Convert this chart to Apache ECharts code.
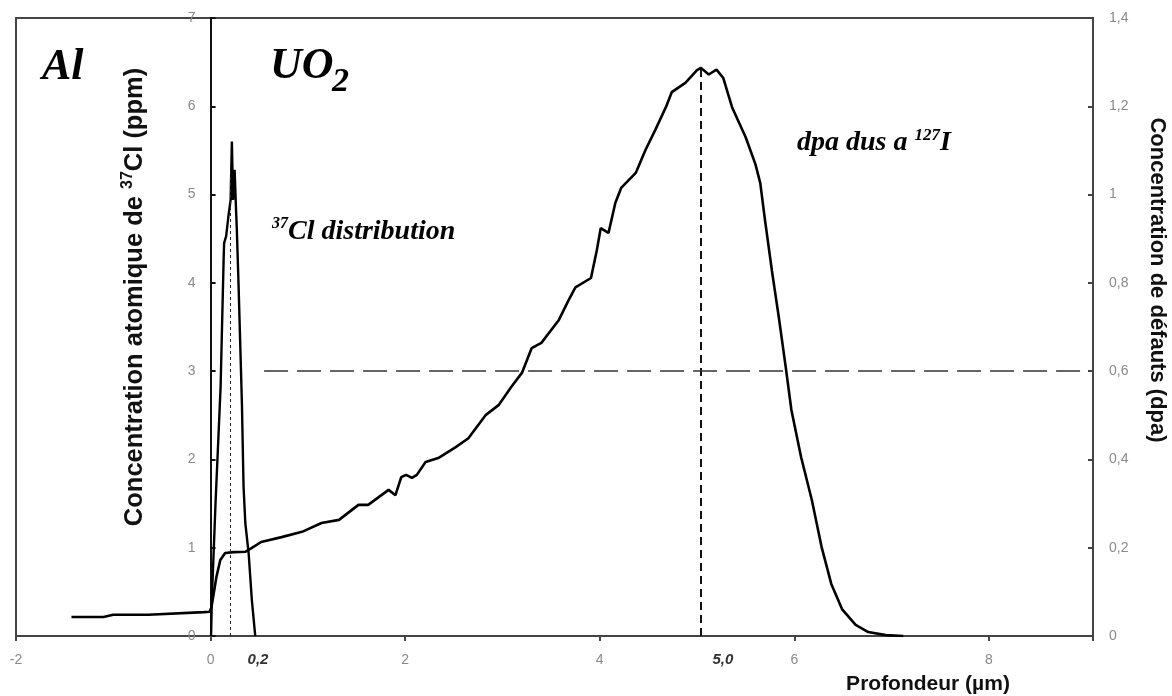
<!DOCTYPE html>
<html><head><meta charset="utf-8">
<script src="https://cdn.jsdelivr.net/npm/echarts@6/dist/echarts.min.js"></script>
<style>html,body{margin:0;padding:0;background:#fff}#c{width:1172px;height:696px}</style>
</head><body><div id="c"></div>
<script>
// depth (µm) and dpa for the 127I damage profile (right axis)
const dpaDepth = [-1.43,-1.10,-1.00,-0.64,-0.07,-0.01,0.01,0.06,0.10,0.15,0.24,0.36,0.42,0.52,0.73,0.94,1.14,1.32,1.52,1.62,1.83,1.90,1.96,2.01,2.07,2.12,2.21,2.34,2.52,2.65,2.83,2.96,3.09,3.20,3.30,3.40,3.58,3.68,3.75,3.91,3.97,4.01,4.09,4.16,4.22,4.37,4.47,4.57,4.68,4.74,4.88,5.00,5.04,5.12,5.20,5.27,5.36,5.50,5.60,5.65,5.70,5.77,5.84,5.91,5.97,6.07,6.18,6.28,6.38,6.49,6.63,6.76,6.94,7.12];
const dpaValues = [0.043,0.043,0.048,0.048,0.054,0.055,0.066,0.134,0.172,0.188,0.190,0.191,0.199,0.213,0.224,0.236,0.256,0.263,0.297,0.297,0.331,0.319,0.360,0.365,0.358,0.365,0.394,0.403,0.428,0.448,0.501,0.523,0.564,0.596,0.652,0.664,0.716,0.761,0.790,0.811,0.874,0.924,0.913,0.981,1.015,1.049,1.101,1.146,1.198,1.232,1.253,1.282,1.287,1.272,1.283,1.264,1.198,1.130,1.069,1.026,0.940,0.827,0.723,0.612,0.512,0.405,0.308,0.202,0.118,0.061,0.025,0.009,0.002,0.0];
// depth (µm) and 37Cl concentration (ppm, left axis)
const clDepth = [0.005,0.013,0.051,0.103,0.134,0.139,0.160,0.185,0.206,0.219,0.231,0.247,0.262,0.270,0.288,0.322,0.339,0.357,0.391,0.424,0.459];
const clValues = [0.0,0.41,1.51,2.82,4.26,4.45,4.53,4.77,4.94,5.60,4.94,5.28,4.82,4.60,3.96,2.64,1.69,1.28,0.94,0.41,0.0];
// reference lines
const clMarkDepth = 0.2, clMarkTop = 5.26, clMarkLabel = '0,2';
const dpaMarkDepth = 5.04, dpaMarkTop = 1.287, dpaMarkLabel = '5,0';
const dpaThreshold = 0.6, thresholdFrom = 0.55, thresholdTo = 9.0;

const chart = echarts.init(document.getElementById('c'), null, {renderer: 'canvas'});
const tickFont = {color: '#8a8a8a', fontSize: 14, fontFamily: 'Liberation Sans, Arial, sans-serif'};
const frameColor = '#444';
const gridLeft = 16;

chart.setOption({
  animation: false,
  backgroundColor: '#fff',
  grid: {left: gridLeft, right: 79, top: 18, bottom: 60, containLabel: false, outerBoundsMode: 'none',
         show: true, borderColor: frameColor, borderWidth: 2, backgroundColor: 'transparent'},
  xAxis: {
    type: 'value', min: -2, max: 9.07, interval: 2,
    axisLine: {show: true, onZero: false, lineStyle: {color: frameColor, width: 2}},
    axisTick: {show: true, inside: false, length: 5, lineStyle: {color: frameColor, width: 2}},
    axisLabel: Object.assign({margin: 17, formatter: v => (Math.abs(v % 2) < 1e-9 ? String(v) : '')}, tickFont),
    splitLine: {show: false}
  },
  yAxis: [
    {
      type: 'value', min: 0, max: 7, interval: 1, position: 'left',
      axisLine: {show: true, onZero: false, lineStyle: {color: '#111', width: 2}},
      axisTick: {show: true, inside: true, length: 5, lineStyle: {color: '#111', width: 2}},
      axisLabel: Object.assign({margin: 15}, tickFont),
      splitLine: {show: false}
    },
    {
      type: 'value', min: 0, max: 1.4, interval: 0.2, position: 'right',
      axisLine: {show: true, onZero: false, lineStyle: {color: frameColor, width: 2}},
      axisTick: {show: true, inside: true, length: 5, lineStyle: {color: frameColor, width: 2}},
      axisLabel: Object.assign({margin: 16, formatter: v => String(+v.toFixed(1)).replace('.', ',')}, tickFont),
      splitLine: {show: false}
    }
  ],
  series: [
    {
      name: 'dpa', type: 'line', yAxisIndex: 1, showSymbol: false, symbol: 'none',
      data: dpaDepth.map((x, i) => [x, dpaValues[i]]),
      lineStyle: {color: '#000', width: 2.6},
      markLine: {
        silent: true, symbol: ['none', 'none'], label: {show: false},
        data: [
          [{coord: [dpaMarkDepth, 0], lineStyle: {color: '#111', width: 2, type: [8, 5]}}, {coord: [dpaMarkDepth, dpaMarkTop]}],
          [{coord: [thresholdFrom, dpaThreshold], lineStyle: {color: '#333', width: 1.5, type: [24, 9]}}, {coord: [thresholdTo, dpaThreshold]}]
        ]
      }
    },
    {
      name: 'Cl', type: 'line', yAxisIndex: 0, showSymbol: false, symbol: 'none',
      data: clDepth.map((x, i) => [x, clValues[i]]),
      lineStyle: {color: '#000', width: 2.4},
      markLine: {
        silent: true, symbol: ['none', 'none'], label: {show: false},
        data: [[{coord: [clMarkDepth, 0], lineStyle: {color: '#222', width: 1, type: [3, 3]}}, {coord: [clMarkDepth, clMarkTop]}]]
      }
    }
  ]
});

// move the left (ppm) axis onto depth = 0
const xZero = chart.convertToPixel({xAxisIndex: 0}, 0);
chart.setOption({yAxis: [{offset: -(xZero - gridLeft)}, {}]});

const p02 = chart.convertToPixel({xAxisIndex: 0, yAxisIndex: 0}, [clMarkDepth, 0]);
const p50 = chart.convertToPixel({xAxisIndex: 0, yAxisIndex: 0}, [dpaMarkDepth, 0]);
const serifBI = 'italic bold ';
const serif = 'Liberation Serif, Times New Roman, serif';
const sans = 'Liberation Sans, Arial, sans-serif';

function txt(x, y, text, font, fill, align) {
  return {
    type: 'text', x: x, y: y, silent: true,
    style: {text: text, font: font, fill: fill || '#000', textAlign: align || 'left', align: align || 'left', textVerticalAlign: 'middle', verticalAlign: 'middle'}
  };
}

chart.setOption({
  graphic: [
    txt(42, 68, 'Al', serifBI + '44px ' + serif),
    txt(270, 67, 'UO', serifBI + '44px ' + serif),
    txt(332, 82, '2', serifBI + '34px ' + serif),
    {
      type: 'text', x: 272, y: 232, silent: true,
      style: {
        text: '{s|37}{m|Cl distribution}', textAlign: 'left', align: 'left', textVerticalAlign: 'middle', verticalAlign: 'middle',
        rich: {
          s: {fontFamily: serif, fontStyle: 'italic', fontWeight: 'bold', fontSize: 16, lineHeight: 16, verticalAlign: 'top', fill: '#000', color: '#000'},
          m: {fontFamily: serif, fontStyle: 'italic', fontWeight: 'bold', fontSize: 28, lineHeight: 32, verticalAlign: 'middle', fill: '#000', color: '#000'}
        }
      }
    },
    {
      type: 'text', x: 797, y: 143, silent: true,
      style: {
        text: '{m|dpa dus a }{s|127}{m|I}', textAlign: 'left', align: 'left', textVerticalAlign: 'middle', verticalAlign: 'middle',
        rich: {
          s: {fontFamily: serif, fontStyle: 'italic', fontWeight: 'bold', fontSize: 17, lineHeight: 16, verticalAlign: 'top', fill: '#000', color: '#000'},
          m: {fontFamily: serif, fontStyle: 'italic', fontWeight: 'bold', fontSize: 28, lineHeight: 32, verticalAlign: 'middle', fill: '#000', color: '#000'}
        }
      }
    },
    txt(p02[0] + 28, p02[1] + 24, clMarkLabel, 'italic bold 15px ' + sans, '#333', 'center'),
    txt(p50[0] + 22, p50[1] + 24, dpaMarkLabel, 'italic bold 15px ' + sans, '#333', 'center'),
    txt(928, 684, 'Profondeur (µm)', 'bold 21px ' + sans, '#111', 'center'),
    {
      type: 'text', x: 135, y: 297, rotation: Math.PI / 2, silent: true,
      style: {
        text: '{m|Concentration atomique de }{s|37}{m|Cl (ppm)}', textAlign: 'center', align: 'center', textVerticalAlign: 'middle', verticalAlign: 'middle',
        rich: {
          s: {fontFamily: sans, fontWeight: 'bold', fontSize: 16, lineHeight: 16, verticalAlign: 'top', fill: '#111', color: '#111'},
          m: {fontFamily: sans, fontWeight: 'bold', fontSize: 25.5, lineHeight: 30, verticalAlign: 'middle', fill: '#111', color: '#111'}
        }
      }
    },
    {type: 'text', x: 1157, y: 280, rotation: -Math.PI / 2, silent: true,
     style: {text: 'Concentration de défauts (dpa)', font: 'bold 22px ' + sans, fill: '#111', textAlign: 'center', align: 'center', textVerticalAlign: 'middle', verticalAlign: 'middle'}}
  ]
});
</script></body></html>
